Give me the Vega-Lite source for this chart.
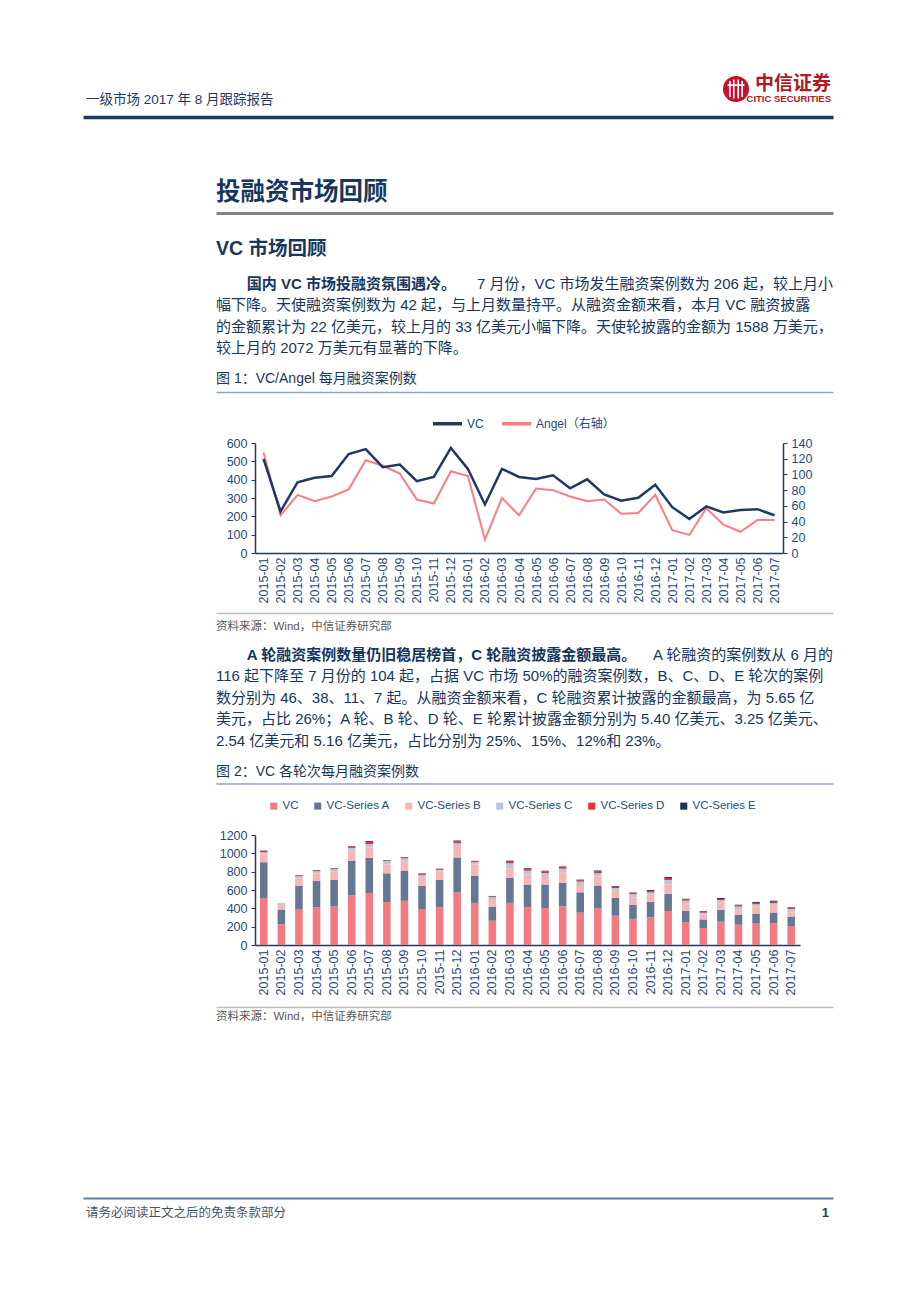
{
  "$schema": "https://vega.github.io/schema/vega-lite/v6.json",
  "background": "white",
  "padding": {"left": 85, "top": 65, "right": 10, "bottom": 10},
  "bounds": "flush",
  "spacing": 0,
  "resolve": {"scale": {"color": "independent"}, "legend": {"color": "independent"}},
  "config": {
    "view": {"stroke": "transparent"},
    "font": "Liberation Sans, Noto Sans CJK SC",
    "axis": {"labelFont": "Liberation Sans, Noto Sans CJK SC"},
    "legend": {"labelFont": "Liberation Sans, Noto Sans CJK SC"}
  },
  "datasets": {
    "page": [
      {"block": "header", "part": "title", "text": "一级市场 2017 年 8 月跟踪报告"},
      {"block": "header", "part": "emblem", "text": ""},
      {"block": "header", "part": "brand", "text": "中信证券"},
      {"block": "header", "part": "brand-en", "text": "CITIC SECURITIES"},
      {"block": "heading", "part": "line", "text": "投融资市场回顾"},
      {"block": "subheading", "part": "line", "text": "VC 市场回顾"},
      {"block": "para1", "part": "lead", "line": 1, "text": "国内 VC 市场投融资氛围遇冷。"},
      {"block": "para1", "part": "lead-rest", "line": 1, "text": "7 月份，VC 市场发生融资案例数为 206 起，较上月小"},
      {"block": "para1", "part": "line", "line": 2, "text": "幅下降。天使融资案例数为 42 起，与上月数量持平。从融资金额来看，本月 VC 融资披露"},
      {"block": "para1", "part": "line", "line": 3, "text": "的金额累计为 22 亿美元，较上月的 33 亿美元小幅下降。天使轮披露的金额为 1588 万美元，"},
      {"block": "para1", "part": "line", "line": 4, "text": "较上月的 2072 万美元有显著的下降。"},
      {"block": "caption1", "part": "line", "text": "图 1：VC/Angel 每月融资案例数"},
      {"block": "source1", "part": "line", "text": "资料来源：Wind，中信证券研究部"},
      {"block": "para2", "part": "lead", "line": 1, "text": "A 轮融资案例数量仍旧稳居榜首，C 轮融资披露金额最高。"},
      {"block": "para2", "part": "lead-rest", "line": 1, "text": "A 轮融资的案例数从 6 月的"},
      {"block": "para2", "part": "line", "line": 2, "text": "116 起下降至 7 月份的 104 起，占据 VC 市场 50%的融资案例数，B、C、D、E 轮次的案例"},
      {"block": "para2", "part": "line", "line": 3, "text": "数分别为 46、38、11、7 起。从融资金额来看，C 轮融资累计披露的金额最高，为 5.65 亿"},
      {"block": "para2", "part": "line", "line": 4, "text": "美元，占比 26%；A 轮、B 轮、D 轮、E 轮累计披露金额分别为 5.40 亿美元、3.25 亿美元、"},
      {"block": "para2", "part": "line", "line": 5, "text": "2.54 亿美元和 5.16 亿美元，占比分别为 25%、15%、12%和 23%。"},
      {"block": "caption2", "part": "line", "text": "图 2：VC 各轮次每月融资案例数"},
      {"block": "source2", "part": "line", "text": "资料来源：Wind，中信证券研究部"},
      {"block": "footer", "part": "note", "text": "请务必阅读正文之后的免责条款部分"},
      {"block": "footer", "part": "pageno", "text": "1"}
    ],
    "monthly": [
      {"month": "2015-01", "VC": 513, "Angel": 128, "VC-Series A": 390, "VC-Series B": 87, "VC-Series C": 22, "VC-Series D": 14, "VC-Series E": 4},
      {"month": "2015-02", "VC": 227, "Angel": 48, "VC-Series A": 160, "VC-Series B": 50, "VC-Series C": 10, "VC-Series D": 3, "VC-Series E": 1},
      {"month": "2015-03", "VC": 386, "Angel": 74, "VC-Series A": 261, "VC-Series B": 80, "VC-Series C": 25, "VC-Series D": 8, "VC-Series E": 3},
      {"month": "2015-04", "VC": 410, "Angel": 66, "VC-Series A": 288, "VC-Series B": 84, "VC-Series C": 23, "VC-Series D": 10, "VC-Series E": 3},
      {"month": "2015-05", "VC": 420, "Angel": 72, "VC-Series A": 289, "VC-Series B": 91, "VC-Series C": 28, "VC-Series D": 8, "VC-Series E": 3},
      {"month": "2015-06", "VC": 540, "Angel": 81, "VC-Series A": 380, "VC-Series B": 109, "VC-Series C": 31, "VC-Series D": 15, "VC-Series E": 5},
      {"month": "2015-07", "VC": 567, "Angel": 118, "VC-Series A": 386, "VC-Series B": 112, "VC-Series C": 35, "VC-Series D": 25, "VC-Series E": 10},
      {"month": "2015-08", "VC": 468, "Angel": 111, "VC-Series A": 314, "VC-Series B": 98, "VC-Series C": 35, "VC-Series D": 7, "VC-Series E": 4},
      {"month": "2015-09", "VC": 482, "Angel": 101, "VC-Series A": 325, "VC-Series B": 102, "VC-Series C": 36, "VC-Series D": 10, "VC-Series E": 5},
      {"month": "2015-10", "VC": 392, "Angel": 68, "VC-Series A": 255, "VC-Series B": 87, "VC-Series C": 31, "VC-Series D": 12, "VC-Series E": 5},
      {"month": "2015-11", "VC": 415, "Angel": 63, "VC-Series A": 294, "VC-Series B": 91, "VC-Series C": 20, "VC-Series D": 8, "VC-Series E": 4},
      {"month": "2015-12", "VC": 573, "Angel": 104, "VC-Series A": 383, "VC-Series B": 124, "VC-Series C": 30, "VC-Series D": 20, "VC-Series E": 10},
      {"month": "2016-01", "VC": 459, "Angel": 98, "VC-Series A": 297, "VC-Series B": 124, "VC-Series C": 25, "VC-Series D": 10, "VC-Series E": 3},
      {"month": "2016-02", "VC": 265, "Angel": 17, "VC-Series A": 153, "VC-Series B": 73, "VC-Series C": 31, "VC-Series D": 10, "VC-Series E": 3},
      {"month": "2016-03", "VC": 459, "Angel": 70, "VC-Series A": 275, "VC-Series B": 102, "VC-Series C": 55, "VC-Series D": 18, "VC-Series E": 11},
      {"month": "2016-04", "VC": 415, "Angel": 48, "VC-Series A": 244, "VC-Series B": 109, "VC-Series C": 43, "VC-Series D": 18, "VC-Series E": 8},
      {"month": "2016-05", "VC": 404, "Angel": 82, "VC-Series A": 255, "VC-Series B": 83, "VC-Series C": 44, "VC-Series D": 18, "VC-Series E": 7},
      {"month": "2016-06", "VC": 424, "Angel": 80, "VC-Series A": 255, "VC-Series B": 109, "VC-Series C": 43, "VC-Series D": 19, "VC-Series E": 7},
      {"month": "2016-07", "VC": 353, "Angel": 72, "VC-Series A": 222, "VC-Series B": 80, "VC-Series C": 36, "VC-Series D": 14, "VC-Series E": 8},
      {"month": "2016-08", "VC": 402, "Angel": 66, "VC-Series A": 247, "VC-Series B": 98, "VC-Series C": 37, "VC-Series D": 18, "VC-Series E": 11},
      {"month": "2016-09", "VC": 319, "Angel": 68, "VC-Series A": 193, "VC-Series B": 80, "VC-Series C": 29, "VC-Series D": 15, "VC-Series E": 7},
      {"month": "2016-10", "VC": 285, "Angel": 50, "VC-Series A": 152, "VC-Series B": 80, "VC-Series C": 37, "VC-Series D": 11, "VC-Series E": 7},
      {"month": "2016-11", "VC": 301, "Angel": 51, "VC-Series A": 171, "VC-Series B": 80, "VC-Series C": 22, "VC-Series D": 14, "VC-Series E": 11},
      {"month": "2016-12", "VC": 372, "Angel": 74, "VC-Series A": 185, "VC-Series B": 106, "VC-Series C": 47, "VC-Series D": 22, "VC-Series E": 11},
      {"month": "2017-01", "VC": 250, "Angel": 29, "VC-Series A": 124, "VC-Series B": 76, "VC-Series C": 33, "VC-Series D": 15, "VC-Series E": 7},
      {"month": "2017-02", "VC": 185, "Angel": 23, "VC-Series A": 94, "VC-Series B": 51, "VC-Series C": 22, "VC-Series D": 11, "VC-Series E": 7},
      {"month": "2017-03", "VC": 254, "Angel": 57, "VC-Series A": 131, "VC-Series B": 77, "VC-Series C": 25, "VC-Series D": 15, "VC-Series E": 10},
      {"month": "2017-04", "VC": 221, "Angel": 36, "VC-Series A": 106, "VC-Series B": 58, "VC-Series C": 36, "VC-Series D": 11, "VC-Series E": 7},
      {"month": "2017-05", "VC": 234, "Angel": 27, "VC-Series A": 109, "VC-Series B": 76, "VC-Series C": 26, "VC-Series D": 14, "VC-Series E": 11},
      {"month": "2017-06", "VC": 239, "Angel": 42, "VC-Series A": 116, "VC-Series B": 73, "VC-Series C": 29, "VC-Series D": 15, "VC-Series E": 11},
      {"month": "2017-07", "VC": 206, "Angel": 42, "VC-Series A": 104, "VC-Series B": 46, "VC-Series C": 38, "VC-Series D": 11, "VC-Series E": 7}
    ]
  },
  "vconcat": [
    {
      "width": 578, "height": 51,
      "data": {"name": "page"},
      "transform": [{"filter": "datum.block === 'header'"}],
      "layer": [
        {
          "transform": [{"filter": "datum.part === 'title'"}],
          "mark": {"type": "text", "align": "left", "baseline": "middle", "fontSize": 13.5, "color": "#1F3864", "dx": 3, "dy": 8.5},
          "encoding": {
            "x": {"datum": 0, "type": "quantitative", "scale": {"domain": [0, 1], "range": [-172, 578]},
                  "axis": {"orient": "bottom", "domain": true, "domainColor": "#1F3864", "domainWidth": 3.5, "ticks": false, "labels": false, "grid": false, "title": null}},
            "text": {"field": "text"}
          }
        },
        {
          "transform": [{"filter": "datum.part === 'emblem'"}],
          "mark": {"type": "point", "shape": "circle", "filled": true, "size": 680, "color": "#C8102E", "opacity": 1},
          "encoding": {"x": {"datum": 1, "type": "quantitative"}, "xOffset": {"value": -97}, "yOffset": {"value": -2.5}}
        },
        {
          "transform": [{"filter": "datum.part === 'emblem'"}],
          "mark": {"type": "point", "shape": "M-0.55,-0.72V0.72M-0.2,-0.85V0.85M0.2,-0.85V0.85M0.55,-0.72V0.72M-0.75,-0.35H0.75", "filled": false, "size": 500, "color": "white", "strokeWidth": 1.6, "opacity": 1},
          "encoding": {"x": {"datum": 1, "type": "quantitative"}, "xOffset": {"value": -97}, "yOffset": {"value": -2.5}}
        },
        {
          "transform": [{"filter": "datum.part === 'brand'"}],
          "mark": {"type": "text", "align": "right", "baseline": "middle", "fontSize": 19, "fontWeight": "bold", "color": "#B0191E", "dx": -2, "dy": -7.5},
          "encoding": {"x": {"datum": 1, "type": "quantitative"}, "text": {"field": "text"}}
        },
        {
          "transform": [{"filter": "datum.part === 'brand-en'"}],
          "mark": {"type": "text", "align": "right", "baseline": "middle", "fontSize": 9.5, "fontWeight": "bold", "font": "Liberation Sans Narrow, Liberation Sans", "color": "#B0191E", "dx": -2, "dy": 7.5},
          "encoding": {"x": {"datum": 1, "type": "quantitative"}, "text": {"field": "text"}}
        }
      ]
    },
    {
      "width": 578, "height": 96,
      "data": {"name": "page"},
      "transform": [{"filter": "datum.block === 'heading'"}],
      "mark": {"type": "text", "align": "left", "baseline": "middle", "fontSize": 24.5, "fontWeight": "bold", "color": "#17375E", "dy": 28},
      "encoding": {
        "x": {"datum": 0, "type": "quantitative", "scale": {"domain": [0, 40], "range": [-39, 578]},
              "axis": {"orient": "bottom", "domain": true, "domainColor": "#858585", "domainWidth": 3, "ticks": false, "labels": false, "grid": false, "title": null}},
        "text": {"field": "text"}
      }
    },
    {
      "width": 578, "height": 60,
      "data": {"name": "page"},
      "transform": [{"filter": "datum.block === 'subheading'"}],
      "mark": {"type": "text", "align": "left", "baseline": "middle", "fontSize": 19.5, "fontWeight": "bold", "color": "#17375E", "dy": 6},
      "encoding": {
        "x": {"datum": 0, "type": "quantitative", "scale": {"domain": [0, 40], "range": [-39, 578]}, "axis": null},
        "text": {"field": "text"}
      }
    },
    {
      "width": 578, "height": 86,
      "data": {"name": "page"},
      "transform": [{"filter": "datum.block === 'para1'"}],
      "encoding": {"y": {"field": "line", "type": "ordinal", "axis": null}},
      "layer": [
        {
          "transform": [{"filter": "datum.part === 'lead'"}],
          "mark": {"type": "text", "align": "left", "baseline": "middle", "fontSize": 15, "fontWeight": "bold", "color": "#17365D"},
          "encoding": {"x": {"datum": 2, "type": "quantitative", "scale": {"domain": [0, 40], "range": [-39, 578]}, "axis": null}, "text": {"field": "text"}}
        },
        {
          "transform": [{"filter": "datum.part === 'lead-rest'"}],
          "mark": {"type": "text", "align": "right", "baseline": "middle", "fontSize": 15, "color": "#17365D"},
          "encoding": {"x": {"value": "width"}, "text": {"field": "text"}}
        },
        {
          "transform": [{"filter": "datum.part === 'line'"}],
          "mark": {"type": "text", "align": "left", "baseline": "middle", "fontSize": 15, "color": "#17365D"},
          "encoding": {"x": {"datum": 0, "type": "quantitative"}, "text": {"field": "text"}}
        }
      ]
    },
    {
      "width": 578, "height": 33,
      "data": {"name": "page"},
      "transform": [{"filter": "datum.block === 'caption1'"}],
      "mark": {"type": "text", "align": "left", "baseline": "middle", "fontSize": 14, "color": "#17365D", "dy": 3.5},
      "encoding": {
        "x": {"datum": 0, "type": "quantitative", "scale": {"domain": [0, 40], "range": [-39, 578]},
              "axis": {"orient": "bottom", "domain": true, "domainColor": "#8EA3C8", "domainWidth": 1.5, "ticks": false, "labels": false, "grid": false, "title": null}},
        "text": {"field": "text"}
      }
    },
    {
      "width": 528, "height": 161,
      "data": {"name": "monthly"},
      "encoding": {
        "x": {"field": "month", "type": "ordinal",
              "axis": {"title": null, "labelAngle": -90, "labelFontSize": 12.5, "labelColor": "#1F497D", "domainColor": "#1F3864", "domainWidth": 1.5, "ticks": false, "labelPadding": 4, "grid": false}}
      },
      "layer": [
        {
          "mark": {"type": "line", "strokeWidth": 2},
          "encoding": {
            "y": {"field": "Angel", "type": "quantitative", "scale": {"domain": [0, 140], "range": [161, 51]},
                  "axis": {"orient": "right", "title": null, "values": [0, 20, 40, 60, 80, 100, 120, 140], "labelFontSize": 12.5, "labelColor": "#1F497D", "domainColor": "#1F3864", "domainWidth": 1.5, "tickColor": "#1F3864", "tickSize": 4, "grid": false, "labelPadding": 4}},
            "color": {"datum": "Angel（右轴）", "type": "nominal"}
          }
        },
        {
          "mark": {"type": "line", "strokeWidth": 2.5},
          "encoding": {
            "y": {"field": "VC", "type": "quantitative", "scale": {"domain": [0, 600], "range": [161, 51]},
                  "axis": {"orient": "left", "title": null, "values": [0, 100, 200, 300, 400, 500, 600], "labelFontSize": 12.5, "labelColor": "#1F497D", "domainColor": "#1F3864", "domainWidth": 1.5, "tickColor": "#1F3864", "tickSize": 4, "grid": false, "labelPadding": 4}},
            "color": {"datum": "VC", "type": "nominal",
                      "scale": {"domain": ["VC", "Angel（右轴）"], "range": ["#1F3864", "#FF7C80"]},
                      "legend": {"orient": "none", "legendX": 176, "legendY": 15, "direction": "horizontal", "title": null, "symbolType": "stroke", "symbolSize": 841, "symbolStrokeWidth": 3.5, "labelFontSize": 12, "labelColor": "#1F497D", "columnPadding": 11, "labelOffset": 3}}
          }
        }
      ],
      "resolve": {"scale": {"y": "independent"}}
    },
    {
      "width": 578, "height": 60,
      "data": {"values": []},
      "mark": "text"
    },
    {
      "width": 578, "height": 31,
      "data": {"name": "page"},
      "transform": [{"filter": "datum.block === 'source1'"}],
      "mark": {"type": "text", "align": "left", "baseline": "middle", "fontSize": 11.5, "color": "#595959", "dy": -1.5},
      "encoding": {
        "x": {"datum": 0, "type": "quantitative", "scale": {"domain": [0, 40], "range": [-39, 578]},
              "axis": {"orient": "top", "domain": true, "domainColor": "#BFBFBF", "domainWidth": 1.5, "ticks": false, "labels": false, "grid": false, "title": null}},
        "text": {"field": "text"}
      }
    },
    {
      "width": 578, "height": 107.5,
      "data": {"name": "page"},
      "transform": [{"filter": "datum.block === 'para2'"}],
      "encoding": {"y": {"field": "line", "type": "ordinal", "axis": null}},
      "layer": [
        {
          "transform": [{"filter": "datum.part === 'lead'"}],
          "mark": {"type": "text", "align": "left", "baseline": "middle", "fontSize": 15, "fontWeight": "bold", "color": "#17365D"},
          "encoding": {"x": {"datum": 2, "type": "quantitative", "scale": {"domain": [0, 40], "range": [-39, 578]}, "axis": null}, "text": {"field": "text"}}
        },
        {
          "transform": [{"filter": "datum.part === 'lead-rest'"}],
          "mark": {"type": "text", "align": "right", "baseline": "middle", "fontSize": 15, "color": "#17365D"},
          "encoding": {"x": {"value": "width"}, "text": {"field": "text"}}
        },
        {
          "transform": [{"filter": "datum.part === 'line'"}],
          "mark": {"type": "text", "align": "left", "baseline": "middle", "fontSize": 15, "color": "#17365D"},
          "encoding": {"x": {"datum": 0, "type": "quantitative"}, "text": {"field": "text"}}
        }
      ]
    },
    {
      "width": 578, "height": 31.5,
      "data": {"name": "page"},
      "transform": [{"filter": "datum.block === 'caption2'"}],
      "mark": {"type": "text", "align": "left", "baseline": "middle", "fontSize": 14, "color": "#17365D", "dy": 3.75},
      "encoding": {
        "x": {"datum": 0, "type": "quantitative", "scale": {"domain": [0, 40], "range": [-39, 578]},
              "axis": {"orient": "bottom", "domain": true, "domainColor": "#8EA3C8", "domainWidth": 1.5, "ticks": false, "labels": false, "grid": false, "title": null}},
        "text": {"field": "text"}
      }
    },
    {
      "width": 545, "height": 161,
      "data": {"name": "monthly"},
      "transform": [{"fold": ["VC", "VC-Series A", "VC-Series B", "VC-Series C", "VC-Series D", "VC-Series E"], "as": ["series", "count"]}],
      "mark": {"type": "bar"},
      "encoding": {
        "x": {"field": "month", "type": "ordinal", "scale": {"paddingInner": 0.57, "paddingOuter": 0.285},
              "axis": {"title": null, "labelAngle": -90, "labelFontSize": 12.5, "labelColor": "#1F497D", "domainColor": "#1F3864", "domainWidth": 1.5, "ticks": false, "labelPadding": 4, "grid": false}},
        "y": {"field": "count", "type": "quantitative", "stack": "zero", "scale": {"domain": [0, 1200], "range": [161, 51]},
              "axis": {"title": null, "format": "d", "values": [0, 200, 400, 600, 800, 1000, 1200], "labelFontSize": 12.5, "labelColor": "#1F497D", "domainColor": "#1F3864", "domainWidth": 1.5, "tickColor": "#1F3864", "tickSize": 4, "grid": false, "labelPadding": 4}},
        "order": {"field": "series", "type": "nominal", "sort": "ascending"},
        "color": {"field": "series", "type": "nominal",
                  "scale": {"domain": ["VC", "VC-Series A", "VC-Series B", "VC-Series C", "VC-Series D", "VC-Series E"], "range": ["#F37A7F", "#647896", "#F9B4B4", "#BCC6D6", "#E6323C", "#1E325A"]},
                  "legend": {"orient": "none", "legendX": 13, "legendY": 16, "direction": "horizontal", "title": null, "symbolType": "square", "symbolSize": 50, "labelFontSize": 11.5, "labelColor": "#1F497D", "columnPadding": 13, "labelOffset": 3}}
      }
    },
    {
      "width": 578, "height": 62,
      "data": {"values": []},
      "mark": "text"
    },
    {
      "width": 578, "height": 20,
      "data": {"name": "page"},
      "transform": [{"filter": "datum.block === 'source2'"}],
      "mark": {"type": "text", "align": "left", "baseline": "middle", "fontSize": 11.5, "color": "#595959"},
      "encoding": {
        "x": {"datum": 0, "type": "quantitative", "scale": {"domain": [0, 40], "range": [-39, 578]},
              "axis": {"orient": "top", "domain": true, "domainColor": "#BFBFBF", "domainWidth": 1.5, "ticks": false, "labels": false, "grid": false, "title": null}},
        "text": {"field": "text"}
      }
    },
    {
      "width": 578, "height": 171,
      "data": {"values": []},
      "mark": "text"
    },
    {
      "width": 578, "height": 30,
      "data": {"name": "page"},
      "transform": [{"filter": "datum.block === 'footer'"}],
      "layer": [
        {
          "transform": [{"filter": "datum.part === 'note'"}],
          "mark": {"type": "text", "align": "left", "baseline": "middle", "fontSize": 12.5, "color": "#44546A", "dx": 3},
          "encoding": {
            "x": {"datum": 0, "type": "quantitative", "scale": {"domain": [0, 1], "range": [-172, 578]},
                  "axis": {"orient": "top", "domain": true, "domainColor": "#5B7DAA", "domainWidth": 2, "ticks": false, "labels": false, "grid": false, "title": null}},
            "text": {"field": "text"}
          }
        },
        {
          "transform": [{"filter": "datum.part === 'pageno'"}],
          "mark": {"type": "text", "align": "right", "baseline": "middle", "fontSize": 13, "fontWeight": "bold", "color": "#1F3864", "dx": -4},
          "encoding": {"x": {"datum": 1, "type": "quantitative"}, "text": {"field": "text"}}
        }
      ]
    }
  ]
}
